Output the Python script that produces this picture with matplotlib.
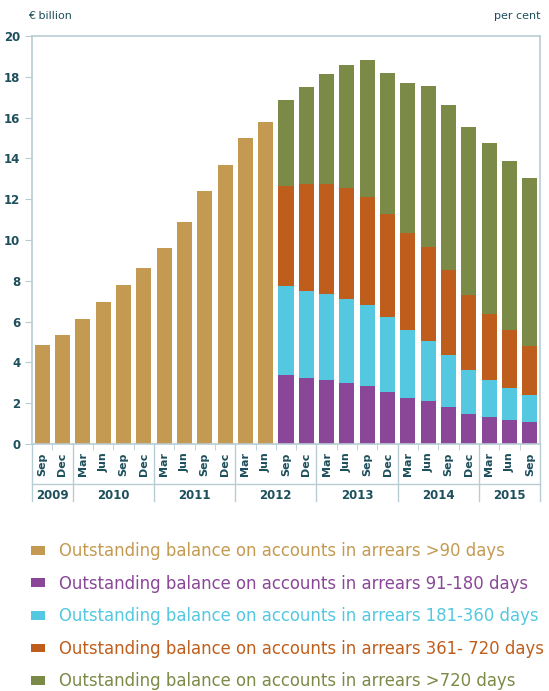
import matplotlib.pyplot as plt
from matplotlib.transforms import blended_transform_factory
import numpy as np

months = ["Sep", "Dec",
          "Mar", "Jun", "Sep", "Dec",
          "Mar", "Jun", "Sep", "Dec",
          "Mar", "Jun", "Sep", "Dec",
          "Mar", "Jun", "Sep", "Dec",
          "Mar", "Jun", "Sep", "Dec",
          "Mar", "Jun", "Sep"]
years = ["2009", "2010", "2011", "2012", "2013", "2014", "2015"]
year_counts = [2, 4, 4, 4, 4, 4, 3]

# total >90 days, Sep 2009 - Jun 2012
total_90 = [4.85, 5.34, 6.13, 6.96, 7.8, 8.63, 9.6, 10.88, 12.4, 13.68, 15.0, 15.78]
# breakdown Sep 2012 - Sep 2015
d91_180 = [3.38, 3.24, 3.14, 2.99, 2.84, 2.55, 2.25, 2.1, 1.81, 1.47, 1.32, 1.18, 1.08]
d181_360 = [4.37, 4.26, 4.21, 4.11, 3.97, 3.67, 3.34, 2.95, 2.55, 2.16, 1.82, 1.57, 1.32]
d361_720 = [4.9, 5.25, 5.4, 5.45, 5.29, 5.05, 4.75, 4.61, 4.17, 3.67, 3.23, 2.84, 2.4]
d720 = [4.21, 4.75, 5.39, 6.03, 6.72, 6.92, 7.36, 7.89, 8.07, 8.24, 8.38, 8.28, 8.24]

labels = ["Outstanding balance on accounts in arrears >90 days",
          "Outstanding balance on accounts in arrears 91-180 days",
          "Outstanding balance on accounts in arrears 181-360 days",
          "Outstanding balance on accounts in arrears 361- 720 days",
          "Outstanding balance on accounts in arrears >720 days"]
colors = ["#c49a52", "#8a4798", "#53c8e0", "#bf5e1c", "#7b8a47"]

text_col = "#1d4f5c"
frame_col = "#b8cdd3"
narrow = ["Liberation Sans Narrow", "DejaVu Sans"]

fig = plt.figure(figsize=(5.49, 6.91), dpi=100)
ax = fig.add_axes([0.0583, 0.3575, 0.9253, 0.5904])

n1 = len(total_90)
x1 = np.arange(n1)
x2 = np.arange(n1, n1 + len(d91_180))
w = 0.74

h = [ax.bar(x1, total_90, w, color=colors[0], zorder=2)]
bottom = np.zeros(len(x2))
for vals, c in zip([d91_180, d181_360, d361_720, d720], colors[1:]):
    h.append(ax.bar(x2, vals, w, bottom=bottom, color=c, zorder=2))
    bottom += np.array(vals)

n = len(months)
ax.set_xlim(-0.5, n - 0.5)
ax.set_ylim(0, 20)
ax.set_yticks(range(0, 21, 2))
ax.set_xticks(np.arange(n))
ax.set_xticklabels(months, rotation=90, fontsize=8, color=text_col,
                   family=narrow, fontweight="bold")
ax.set_xticks(np.arange(n + 1) - 0.5, minor=True)
ax.tick_params(axis="x", which="major", length=0, pad=6)
ax.tick_params(axis="x", which="minor", length=4, color=frame_col)
ax.tick_params(axis="y", length=5, color=frame_col, labelcolor=text_col, labelsize=8.5)
for t in ax.get_yticklabels():
    t.set_family(narrow)
    t.set_fontweight("bold")
for s in ax.spines.values():
    s.set_color(frame_col)
    s.set_linewidth(1.2)

# year band under month labels
tr = blended_transform_factory(ax.transData, ax.transAxes)
ax.plot([-0.5, n - 0.5], [-0.098, -0.098], transform=tr, color=frame_col,
        lw=1, clip_on=False)
edges = np.concatenate([[0], np.cumsum(year_counts)]) - 0.5
for e in edges:
    ax.plot([e, e], [0, -0.14], transform=tr, color=frame_col, lw=1, clip_on=False)
for i, yr in enumerate(years):
    ax.text((edges[i] + edges[i + 1]) / 2, -0.127, yr, transform=tr, ha="center",
            va="center", fontsize=8.5, fontweight="bold", color=text_col, family=narrow)

fig.text(0.051, 0.977, "€ billion", fontsize=8, color=text_col, va="center")
fig.text(0.984, 0.977, "per cent", fontsize=8, color=text_col, va="center", ha="right")

leg = fig.legend(h, labels, loc="upper left", bbox_to_anchor=(0.045, 0.225),
                 frameon=False, fontsize=11.9, labelcolor=colors,
                 handlelength=0.85, handleheight=0.42, handletextpad=0.85,
                 labelspacing=0.88, borderaxespad=0)

fig.savefig("out.png", dpi=100)
